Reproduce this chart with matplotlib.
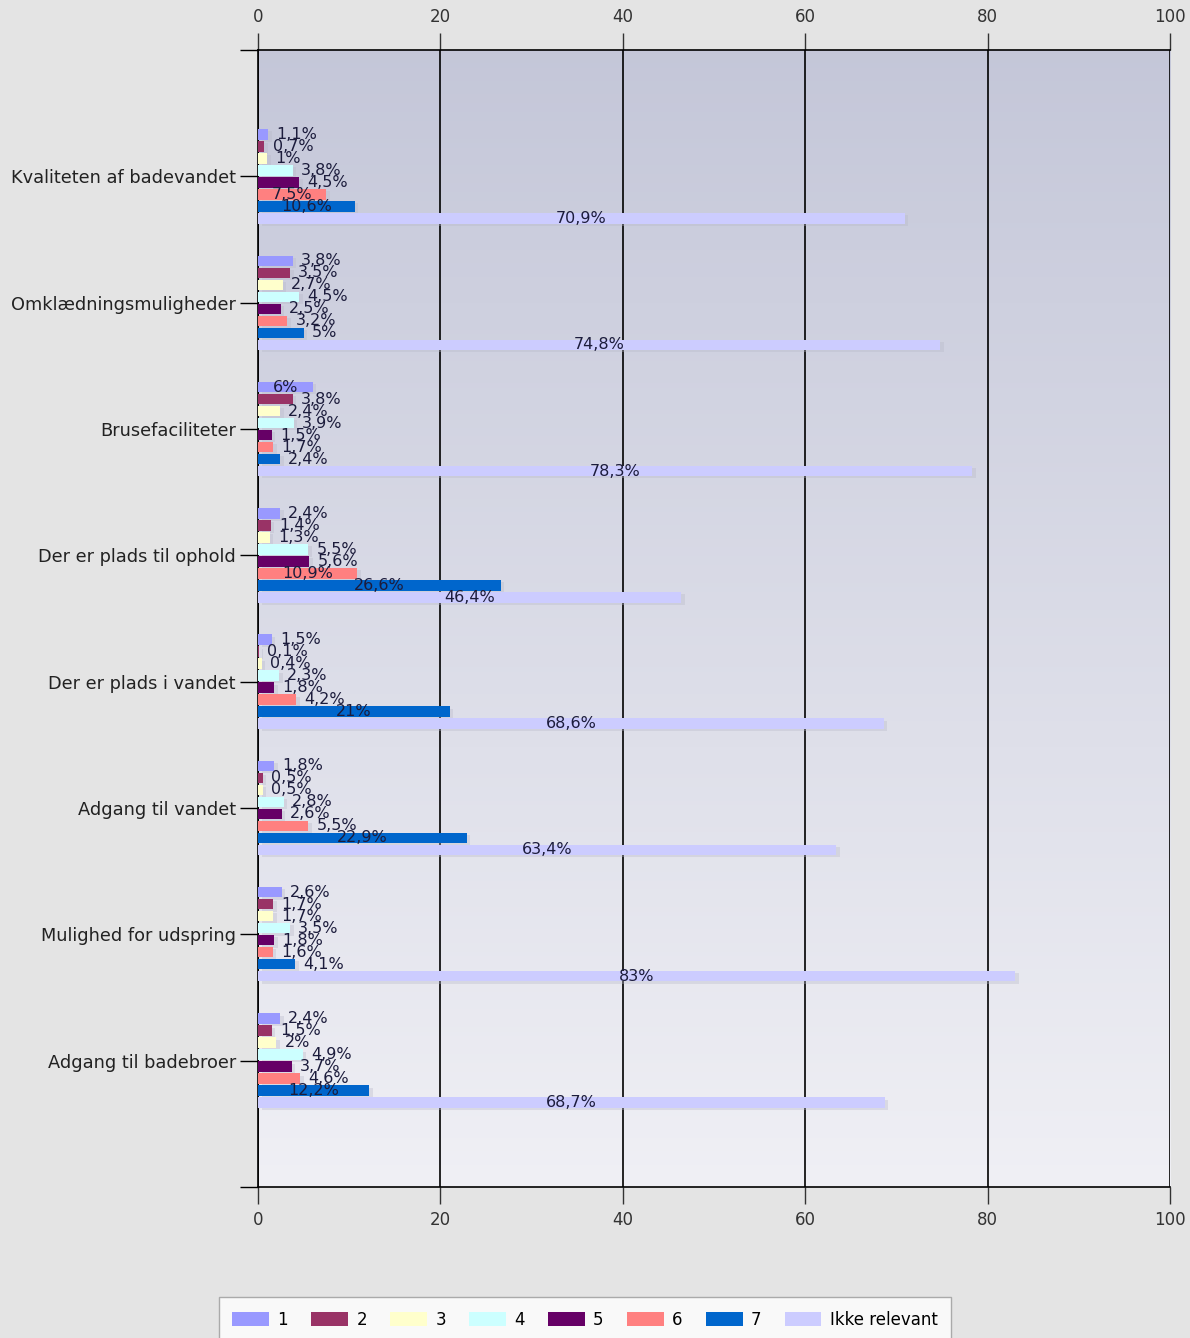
import numpy as np
import matplotlib
matplotlib.use("Agg")
import matplotlib.pyplot as plt
from matplotlib.patches import Patch

# ==========================
# DATA
# ==========================

categories = [
    "Kvaliteten af badevandet",
    "Omklædningsmuligheder",
    "Brusefaciliteter",
    "Der er plads til ophold",
    "Der er plads i vandet",
    "Adgang til vandet",
    "Mulighed for udspring",
    "Adgang til badebroer",
]

series_names = ["1", "2", "3", "4", "5", "6", "7", "Ikke relevant"]

s1 = [1.1, 3.8, 6.0, 2.4, 1.5, 1.8, 2.6, 2.4]
s2 = [0.7, 3.5, 3.8, 1.4, 0.1, 0.5, 1.7, 1.5]
s3 = [1.0, 2.7, 2.4, 1.3, 0.4, 0.5, 1.7, 2.0]
s4 = [3.8, 4.5, 3.9, 5.5, 2.3, 2.8, 3.5, 4.9]
s5 = [4.5, 2.5, 1.5, 5.6, 1.8, 2.6, 1.8, 3.7]
s6 = [7.5, 3.2, 1.7, 10.9, 4.2, 5.5, 1.6, 4.6]
s7 = [10.6, 5.0, 2.4, 26.6, 21.0, 22.9, 4.1, 12.2]
s_ikke = [70.9, 74.8, 78.3, 46.4, 68.6, 63.4, 83.0, 68.7]

series = [s1, s2, s3, s4, s5, s6, s7, s_ikke]
colors = ["#9999ff", "#993366", "#ffffcc", "#ccffff",
          "#660066", "#ff8080", "#0066cc", "#ccccff"]

# ==========================
# FIGURE
# ==========================

fig = plt.figure(figsize=(11.9, 13.38), dpi=100)
fig.patch.set_facecolor("#e4e4e4")
ax = fig.add_axes([0.2168, 0.1129, 0.7664, 0.8497])

# gradient background inside the plot area
grad = np.linspace(0, 1, 256).reshape(-1, 1)
top = np.array([0.77, 0.78, 0.85])
bottom = np.array([0.94, 0.94, 0.96])
img = top + grad[..., None] * (bottom - top)
img = np.repeat(img, 2, axis=1)
ax.imshow(img, extent=[0, 100, 9, 0], aspect="auto", zorder=0)

y = np.arange(1, len(categories) + 1)
step = 0.095
bar_h = 0.082

for i, (vals, col) in enumerate(zip(series, colors)):
    ypos = y + (i - 3.5) * step
    # soft shadow
    ax.barh(ypos + 0.018, vals, height=bar_h, left=0.4,
            color="#b8b8c8", alpha=0.35, zorder=2, linewidth=0)
    ax.barh(ypos, vals, height=bar_h, color=col, zorder=3, linewidth=0)
    for yy, v in zip(ypos, vals):
        txt = f"{v:g}".replace(".", ",") + "%"
        if v >= 6:
            ax.text(v / 2, yy, txt, ha="center", va="center",
                    fontsize=11.5, color="#1c1c3c", zorder=5)
        else:
            ax.text(v + 0.9, yy, txt, ha="left", va="center",
                    fontsize=11.5, color="#1c1c3c", zorder=5)

ax.set_xlim(0, 100)
ax.set_ylim(9, 0)
ax.set_xticks([0, 20, 40, 60, 80, 100])
ax.set_yticks(y)
ax.set_yticklabels(categories)
ax.set_yticks([0, 9], minor=True)

ax.grid(axis="x", color="black", linewidth=1.2, zorder=1)
for gl in ax.get_xgridlines():
    gl.set_zorder(1)

ax.tick_params(axis="x", which="both", top=True, labeltop=True,
               bottom=True, labelbottom=True, direction="out",
               length=12, width=1, pad=5, labelsize=12, colors="#333333")
ax.tick_params(axis="y", which="both", direction="out", length=13,
               width=1, pad=3, labelsize=12.8, labelcolor="#222222")

for side in ["top", "bottom", "left"]:
    ax.spines[side].set_color("black")
    ax.spines[side].set_linewidth(1.2)
ax.spines["right"].set_visible(False)

# ==========================
# LEGEND
# ==========================

handles = [Patch(facecolor=c, edgecolor="none") for c in colors]
leg = fig.legend(handles, series_names, loc="lower center",
                 bbox_to_anchor=(0.4916, -0.003), ncol=8, frameon=True,
                 fontsize=12, handlelength=2.2, handleheight=1.0,
                 columnspacing=1.4, handletextpad=0.5, borderpad=0.8,
                 borderaxespad=0, fancybox=False)
leg.get_frame().set_edgecolor("#999999")
leg.get_frame().set_facecolor("white")

plt.savefig("out.png", dpi=100, facecolor=fig.get_facecolor())
